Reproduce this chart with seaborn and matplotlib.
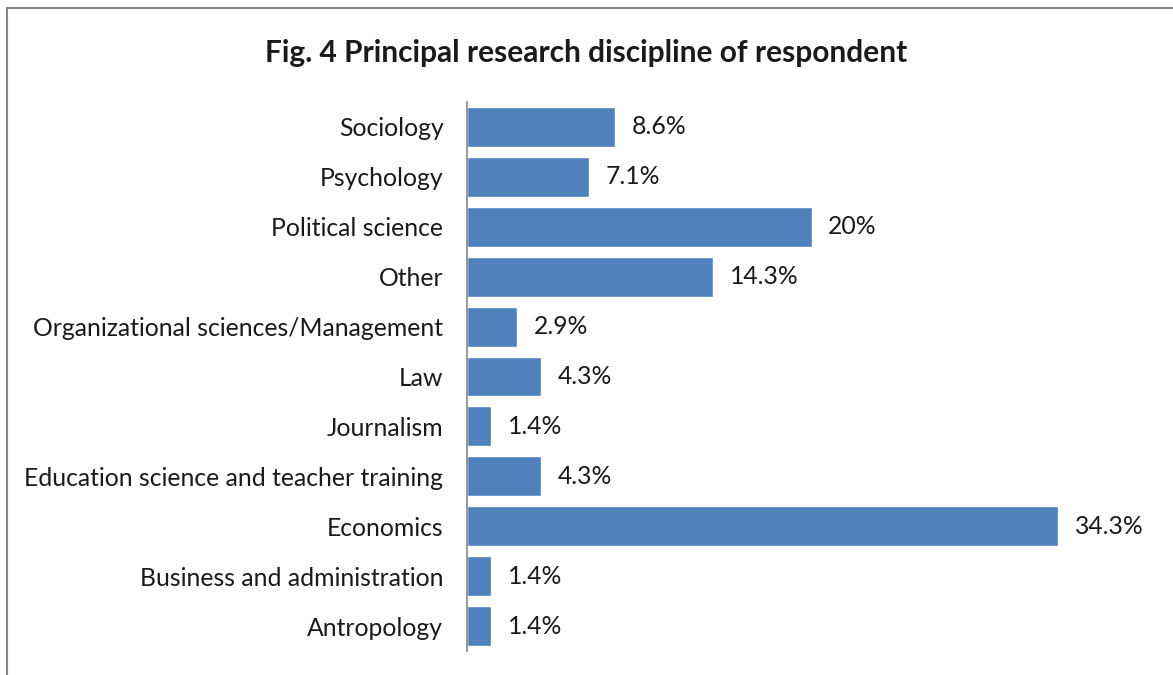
import matplotlib
matplotlib.use('Agg')
import matplotlib.pyplot as plt
import seaborn as sns
import pandas as pd
from matplotlib.lines import Line2D

# data, top to bottom as shown
disciplines = ['Sociology', 'Psychology', 'Political science', 'Other',
               'Organizational sciences/Management', 'Law', 'Journalism',
               'Education science and teacher training', 'Economics',
               'Business and administration', 'Antropology']
shares = [8.6, 7.1, 20, 14.3, 2.9, 4.3, 1.4, 4.3, 34.3, 1.4, 1.4]
share_labels = ['8.6%', '7.1%', '20%', '14.3%', '2.9%', '4.3%', '1.4%',
                '4.3%', '34.3%', '1.4%', '1.4%']

df = pd.DataFrame({'discipline': disciplines, 'share': shares})

sns.set_style('white')
plt.rcParams['font.family'] = ['Lato', 'DejaVu Sans']

fig = plt.figure(figsize=(11.73, 6.75), dpi=100)
ax = fig.add_axes([467 / 1173, 1 - 651 / 675, (1156 - 467) / 1173, (651 - 102) / 675])

sns.barplot(data=df, x='share', y='discipline', color='#4F81BD', saturation=1,
            width=0.8, orient='h', ax=ax)

ax.set_xlim(0, 40)
ax.set_xticks([])
ax.set_xlabel('')
ax.set_ylabel('')
for s in ['top', 'right', 'bottom']:
    ax.spines[s].set_visible(False)
ax.spines['left'].set_color('#868686')
ax.spines['left'].set_linewidth(1.2)
ax.tick_params(axis='y', length=0, pad=17, labelsize=17.8, labelcolor='#1a1a1a')

for i, (v, lab) in enumerate(zip(shares, share_labels)):
    ax.annotate(lab, (v, i), xytext=(12, 0), textcoords='offset points',
                va='center', ha='left', fontsize=17.8, color='#1a1a1a')

fig.text(0.5, 1 - 53 / 675, 'Fig. 4 Principal research discipline of respondent',
         ha='center', va='center', fontsize=21.5, fontweight='bold', color='#1a1a1a')

# outer chart border (only top and left are visible in the crop)
fig.add_artist(Line2D([7 / 1173, 7 / 1173], [0, 1 - 8 / 675], transform=fig.transFigure,
                      color='#868686', lw=1.5))
fig.add_artist(Line2D([7 / 1173, 1], [1 - 8 / 675, 1 - 8 / 675], transform=fig.transFigure,
                      color='#868686', lw=1.5))

fig.savefig('out.png', dpi=100)
